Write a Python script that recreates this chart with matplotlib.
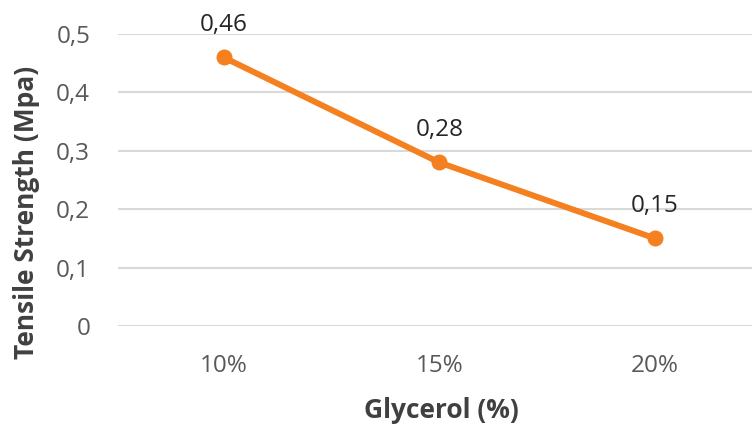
import matplotlib
matplotlib.use("Agg")
import matplotlib.pyplot as plt

plt.rcParams['font.family'] = ['Open Sans', 'DejaVu Sans']

categories = ["10%", "15%", "20%"]
tensile_strength = [0.46, 0.28, 0.15]
y_ticks = [0, 0.1, 0.2, 0.3, 0.4, 0.5]

line_color = "#F5801F"
grid_color = "#D9D9D9"
tick_color = "#595959"
title_color = "#404040"


def comma(v, nd):
    return f"{v:.{nd}f}".replace(".", ",")


W, H = 753, 425
fig = plt.figure(figsize=(W / 100, H / 100), dpi=100)
ax = fig.add_axes([118 / W, 1 - 326 / H, (752 - 118) / W, (326 - 34) / H])

x = list(range(len(categories)))
ax.plot(x, tensile_strength, color=line_color, linewidth=4.3,
        marker="o", markersize=10.5, solid_capstyle="round", zorder=3)

for xi, v in zip(x, tensile_strength):
    ax.annotate(comma(v, 2), (xi, v), xytext=(0, 23.5), textcoords="offset points",
                ha="center", va="center", fontsize=17.5, color="#262626")

ax.set_ylim(0, 0.5)
ax.set_xlim(-0.49, 2.45)
ax.set_yticks(y_ticks)
ax.set_yticklabels([comma(v, 1) if v else "0" for v in y_ticks])
ax.set_xticks(x)
ax.set_xticklabels(categories)

for yv in y_ticks:
    ax.axhline(yv, color=grid_color, linewidth=1.5, zorder=1)

for s in ax.spines.values():
    s.set_visible(False)
ax.tick_params(axis="both", length=0, labelsize=17.5, labelcolor=tick_color)
ax.tick_params(axis="y", pad=20)
ax.tick_params(axis="x", pad=20)

fig.text(27 / W, 1 - 212 / H, "Tensile Strength (Mpa)", rotation=90,
         ha="center", va="center", fontsize=19, fontweight="bold", color=title_color)
fig.text(441 / W, 1 - 410 / H, "Glycerol (%)",
         ha="center", va="center", fontsize=19, fontweight="bold", color=title_color)

fig.savefig("out.png", dpi=100)
